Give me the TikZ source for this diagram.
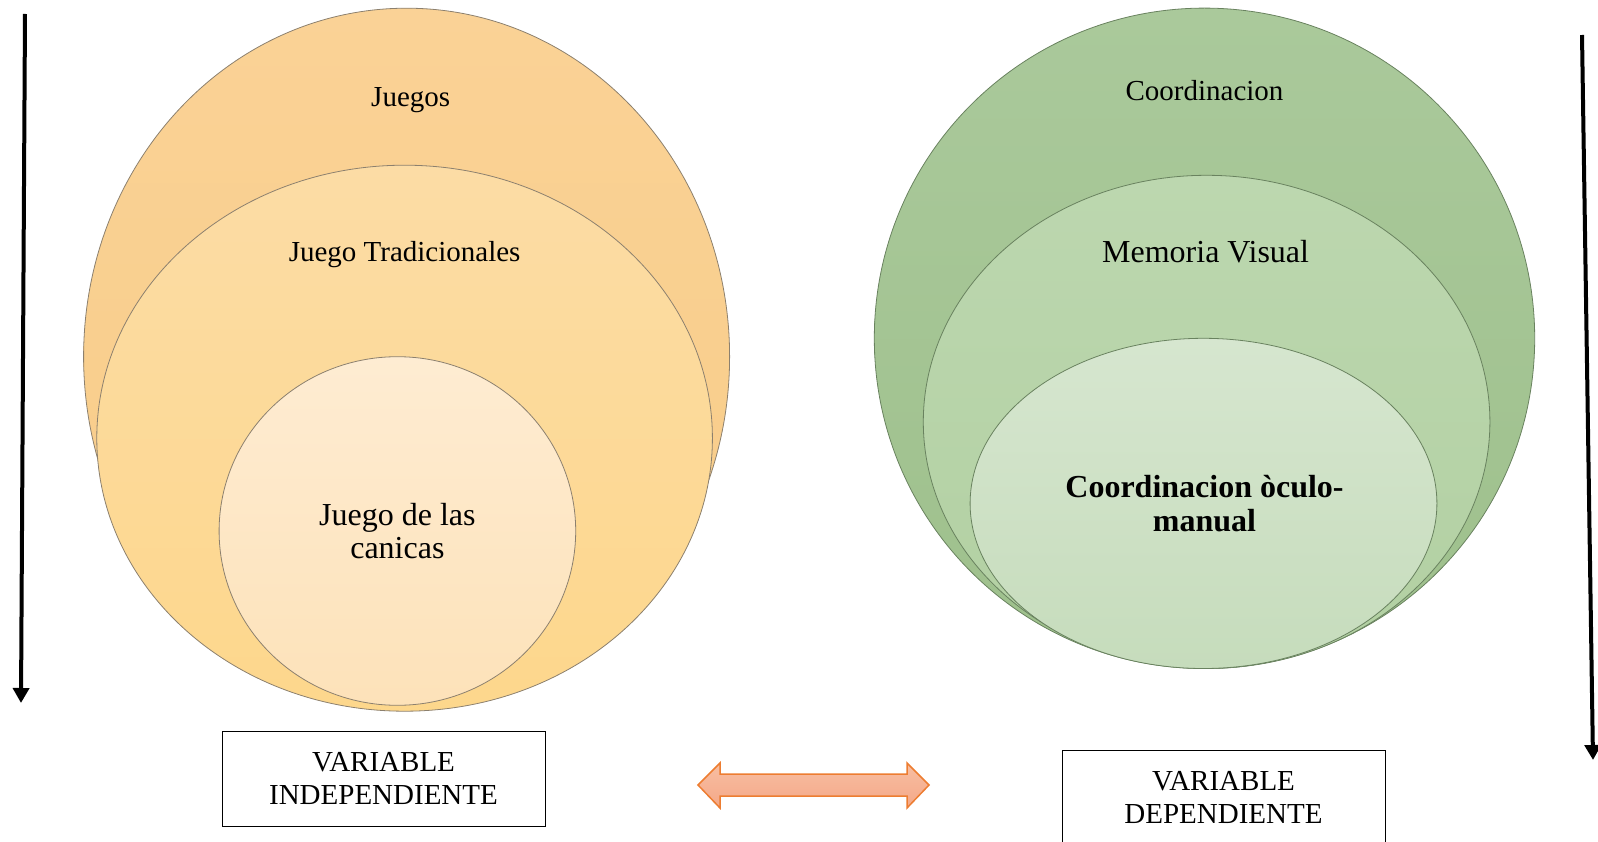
\documentclass[tikz,border=0pt]{standalone}
\usepackage{fontspec}
\setmainfont{Liberation Serif}
\usetikzlibrary{positioning,arrows.meta}
\definecolor{orangeOuterTop}{RGB}{250,210,150}
\definecolor{orangeOuterBottom}{RGB}{248,204,135}
\definecolor{orangeMidTop}{RGB}{252,220,165}
\definecolor{orangeMidBottom}{RGB}{253,215,140}
\definecolor{orangeInnerTop}{RGB}{254,236,210}
\definecolor{orangeInnerBottom}{RGB}{253,226,185}
\definecolor{greenOuterTop}{RGB}{170,201,155}
\definecolor{greenOuterBottom}{RGB}{158,192,140}
\definecolor{greenMidTop}{RGB}{188,215,175}
\definecolor{greenMidBottom}{RGB}{178,208,162}
\definecolor{greenInnerTop}{RGB}{214,230,207}
\definecolor{greenInnerBottom}{RGB}{198,220,188}
\definecolor{orangeRingEdge}{RGB}{140,128,110}
\definecolor{greenRingEdge}{RGB}{105,130,95}
\definecolor{pairArrowTop}{RGB}{248,190,162}
\definecolor{pairArrowBottom}{RGB}{244,168,136}
\definecolor{pairArrowEdge}{RGB}{237,125,49}
\tikzstyle{canvas} = [x = 1pt, y = -1pt]
\tikzstyle{ringText} = [font=\fontsize{29}{33}\selectfont, align=center, inner sep=0pt]
\tikzstyle{ringBigText} = [font=\fontsize{32}{33}\selectfont, align=center, inner sep=0pt]
\tikzstyle{ringBoldText} = [font=\bfseries\fontsize{32}{34}\selectfont, align=center, inner sep=0pt]
\tikzstyle{variableBox} = [draw=black, line width=1pt, fill=white, minimum width=323pt, minimum height=95pt, align=center, font=\fontsize{29}{33}\selectfont]
\tikzstyle{flowArrow} = [line width=4pt, -{Triangle[width=16pt,length=15pt]}]
\tikzstyle{pairArrow} = [draw=pairArrowEdge, line width=1.5pt, top color=pairArrowTop, bottom color=pairArrowBottom, line join=miter]
\newcommand{\ring}[7]{\shadedraw [draw=#7, line width=0.8pt, top color=#5, bottom color=#6] (#1, #2) ellipse [x radius=#3, y radius=#4];}

\begin{document}
\begin{tikzpicture}[canvas]
  \useasboundingbox (0,0) rectangle (1598,842);
  % left target
  \ring{406.6}{356.7}{323}{348.5}{orangeOuterTop}{orangeOuterBottom}{orangeRingEdge}
  \ring{404.6}{438.2}{307.8}{273}{orangeMidTop}{orangeMidBottom}{orangeRingEdge}
  \ring{397.4}{531}{178.3}{174.3}{orangeInnerTop}{orangeInnerBottom}{orangeRingEdge}
  \node [ringText] (juegos) at (410.7,100.5) {Juegos};
  \node [ringText] (tradicionales) at (404.6,254.5) {Juego Tradicionales};
  \node [ringBigText] (canicas) at (397.4,531) {Juego de las\\canicas};
  % right target
  \ring{1204.5}{338.3}{330.2}{330.2}{greenOuterTop}{greenOuterBottom}{greenRingEdge}
  \ring{1206.6}{421.9}{283.3}{246.6}{greenMidTop}{greenMidBottom}{greenRingEdge}
  \ring{1203.5}{503.4}{233.4}{165.1}{greenInnerTop}{greenInnerBottom}{greenRingEdge}
  \node [ringText] (coordinacion) at (1204.5,90.7) {Coordinacion};
  \node [ringBigText] (memoria) at (1205.6,251.7) {Memoria Visual};
  \node [ringBoldText] (oculoManual) at (1204.5,504) {Coordinacion òculo-\\manual};
  % variable boxes
  \node [variableBox] (independiente) at (383.5,778.5) {VARIABLE\\INDEPENDIENTE};
  \node [variableBox] (dependiente) at (1223.5,797.5) {VARIABLE\\DEPENDIENTE};
  % double arrow between the boxes
  \shadedraw [pairArrow] (698,785) -- (720,763) -- (720,774) -- (907,774) -- (907,763) -- (929,785)
    -- (907,808) -- (907,796) -- (720,796) -- (720,808) -- cycle;
  % side arrows
  \coordinate (leftStart) at (25,14);
  \coordinate (leftEnd) at (21,703);
  \coordinate (rightStart) at (1582,35);
  \coordinate (rightEnd) at (1593,760);
  \draw [flowArrow] (leftStart) -- (leftEnd);
  \draw [flowArrow] (rightStart) -- (rightEnd);
\end{tikzpicture}
\end{document}
